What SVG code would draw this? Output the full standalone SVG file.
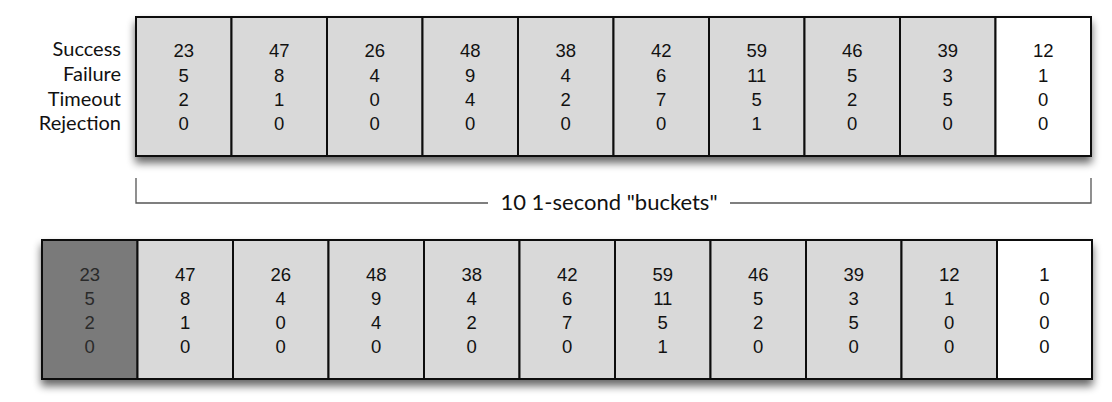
<svg xmlns="http://www.w3.org/2000/svg" width="1112" height="402" viewBox="0 0 1112 402">
<defs>
<filter id="sh" x="-5%" y="-20%" width="110%" height="150%">
<feGaussianBlur in="SourceAlpha" stdDeviation="4"/>
<feOffset dx="0" dy="6" result="b"/>
<feComponentTransfer><feFuncA type="linear" slope="0.6"/></feComponentTransfer>
<feMerge><feMergeNode/><feMergeNode in="SourceGraphic"/></feMerge>
</filter>
</defs>
<style>
.c{stroke:#111;stroke-width:2}
.g{fill:#d9d9d9}
.w{fill:#fff}
.d{fill:#7a7a7a}
.n{font-family:"Liberation Sans",Arial,sans-serif;font-size:18.5px;fill:#111;text-anchor:middle}
.nd{fill:#2a2a2a}
.l{font-family:"Lato","Open Sans",sans-serif;font-size:20px;fill:#111;text-anchor:end}
.br{fill:none;stroke:#555;stroke-width:1.3}
.bt{font-family:"Lato","Open Sans",sans-serif;font-size:22px;fill:#111;text-anchor:middle}
</style>
<g id="labels">
<text class="l" x="121" y="56">Success</text>
<text class="l" x="121" y="81">Failure</text>
<text class="l" x="121" y="105.5">Timeout</text>
<text class="l" x="121" y="130">Rejection</text>
</g>
<g id="top-row" filter="url(#sh)">
<rect class="c g" x="136" y="17" width="95.5" height="139"/>
<rect class="c g" x="231.5" y="17" width="95.5" height="139"/>
<rect class="c g" x="327" y="17" width="95.5" height="139"/>
<rect class="c g" x="422.5" y="17" width="95.5" height="139"/>
<rect class="c g" x="518" y="17" width="95.5" height="139"/>
<rect class="c g" x="613.5" y="17" width="95.5" height="139"/>
<rect class="c g" x="709" y="17" width="95.5" height="139"/>
<rect class="c g" x="804.5" y="17" width="95.5" height="139"/>
<rect class="c g" x="900" y="17" width="95.5" height="139"/>
<rect class="c w" x="995.5" y="17" width="95.5" height="139"/>
</g>
<g id="top-values">
<text class="n" x="183.75" y="57">23<tspan x="183.75" y="81.5">5</tspan><tspan x="183.75" y="106">2</tspan><tspan x="183.75" y="130">0</tspan></text>
<text class="n" x="279.25" y="57">47<tspan x="279.25" y="81.5">8</tspan><tspan x="279.25" y="106">1</tspan><tspan x="279.25" y="130">0</tspan></text>
<text class="n" x="374.75" y="57">26<tspan x="374.75" y="81.5">4</tspan><tspan x="374.75" y="106">0</tspan><tspan x="374.75" y="130">0</tspan></text>
<text class="n" x="470.25" y="57">48<tspan x="470.25" y="81.5">9</tspan><tspan x="470.25" y="106">4</tspan><tspan x="470.25" y="130">0</tspan></text>
<text class="n" x="565.75" y="57">38<tspan x="565.75" y="81.5">4</tspan><tspan x="565.75" y="106">2</tspan><tspan x="565.75" y="130">0</tspan></text>
<text class="n" x="661.25" y="57">42<tspan x="661.25" y="81.5">6</tspan><tspan x="661.25" y="106">7</tspan><tspan x="661.25" y="130">0</tspan></text>
<text class="n" x="756.75" y="57">59<tspan x="756.75" y="81.5">11</tspan><tspan x="756.75" y="106">5</tspan><tspan x="756.75" y="130">1</tspan></text>
<text class="n" x="852.25" y="57">46<tspan x="852.25" y="81.5">5</tspan><tspan x="852.25" y="106">2</tspan><tspan x="852.25" y="130">0</tspan></text>
<text class="n" x="947.75" y="57">39<tspan x="947.75" y="81.5">3</tspan><tspan x="947.75" y="106">5</tspan><tspan x="947.75" y="130">0</tspan></text>
<text class="n" x="1043.25" y="57">12<tspan x="1043.25" y="81.5">1</tspan><tspan x="1043.25" y="106">0</tspan><tspan x="1043.25" y="130">0</tspan></text>
</g>
<g id="connectors">
<path class="br" d="M136,178 V203 H488 M730,203 H1091 V178"/>
</g>
<g id="bracket-label">
<text class="bt" x="609" y="209.5">10 1-second "buckets"</text>
</g>
<g id="bottom-row" filter="url(#sh)">
<rect class="c d" x="42" y="240" width="95.5" height="139"/>
<rect class="c g" x="137.5" y="240" width="95.5" height="139"/>
<rect class="c g" x="233" y="240" width="95.5" height="139"/>
<rect class="c g" x="328.5" y="240" width="95.5" height="139"/>
<rect class="c g" x="424" y="240" width="95.5" height="139"/>
<rect class="c g" x="519.5" y="240" width="95.5" height="139"/>
<rect class="c g" x="615" y="240" width="95.5" height="139"/>
<rect class="c g" x="710.5" y="240" width="95.5" height="139"/>
<rect class="c g" x="806" y="240" width="95.5" height="139"/>
<rect class="c g" x="901.5" y="240" width="95.5" height="139"/>
<rect class="c w" x="997" y="240" width="95" height="139"/>
</g>
<g id="bottom-values">
<text class="n nd" x="89.75" y="281">23<tspan x="89.75" y="305">5</tspan><tspan x="89.75" y="329">2</tspan><tspan x="89.75" y="353">0</tspan></text>
<text class="n" x="185.25" y="281">47<tspan x="185.25" y="305">8</tspan><tspan x="185.25" y="329">1</tspan><tspan x="185.25" y="353">0</tspan></text>
<text class="n" x="280.75" y="281">26<tspan x="280.75" y="305">4</tspan><tspan x="280.75" y="329">0</tspan><tspan x="280.75" y="353">0</tspan></text>
<text class="n" x="376.25" y="281">48<tspan x="376.25" y="305">9</tspan><tspan x="376.25" y="329">4</tspan><tspan x="376.25" y="353">0</tspan></text>
<text class="n" x="471.75" y="281">38<tspan x="471.75" y="305">4</tspan><tspan x="471.75" y="329">2</tspan><tspan x="471.75" y="353">0</tspan></text>
<text class="n" x="567.25" y="281">42<tspan x="567.25" y="305">6</tspan><tspan x="567.25" y="329">7</tspan><tspan x="567.25" y="353">0</tspan></text>
<text class="n" x="662.75" y="281">59<tspan x="662.75" y="305">11</tspan><tspan x="662.75" y="329">5</tspan><tspan x="662.75" y="353">1</tspan></text>
<text class="n" x="758.25" y="281">46<tspan x="758.25" y="305">5</tspan><tspan x="758.25" y="329">2</tspan><tspan x="758.25" y="353">0</tspan></text>
<text class="n" x="853.75" y="281">39<tspan x="853.75" y="305">3</tspan><tspan x="853.75" y="329">5</tspan><tspan x="853.75" y="353">0</tspan></text>
<text class="n" x="949.25" y="281">12<tspan x="949.25" y="305">1</tspan><tspan x="949.25" y="329">0</tspan><tspan x="949.25" y="353">0</tspan></text>
<text class="n" x="1044.5" y="281">1<tspan x="1044.5" y="305">0</tspan><tspan x="1044.5" y="329">0</tspan><tspan x="1044.5" y="353">0</tspan></text>
</g>
</svg>
